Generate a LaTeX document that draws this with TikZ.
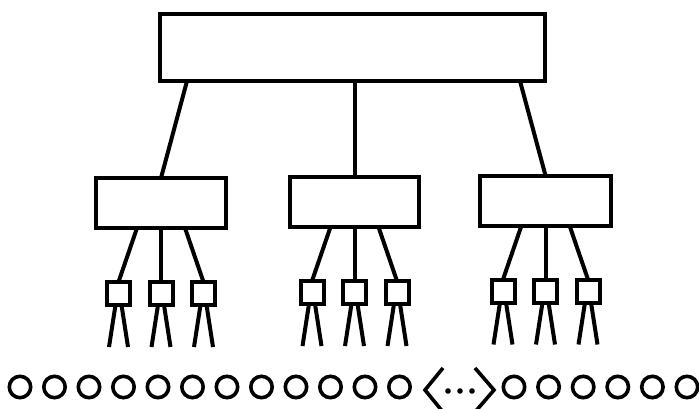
\documentclass[tikz,border=0pt]{standalone}
\usetikzlibrary{calc,backgrounds}
\begin{document}
\begin{tikzpicture}[x=1pt,y=-1pt,
  box/.style={draw=black,line width=4pt,fill=white,inner sep=0pt,outer sep=0pt},
  wire/.style={line width=4pt},
  ring/.style={draw=black,line width=3.6pt,circle,minimum size=21.4pt,inner sep=0pt,outer sep=0pt},
  chev/.style={line width=3.6pt}]
\useasboundingbox (0,0) rectangle (699,408);
\node[box,minimum width=385pt,minimum height=67pt] (t) at (352.5,47.5) {};
\foreach \g/\cx/\cy/\w/\sy in {1/161/203/130/293.5, 2/354.5/202/129/292.5, 3/545.5/200.5/131/291} {
  \node[box,minimum width=\w pt,minimum height=50pt] (m\g) at (\cx,\cy) {};
  \foreach \k/\dx in {1/-42.5,2/0,3/42.5} {
    \node[box,minimum width=23pt,minimum height=23pt] (s\g\k) at (\cx+\dx,\sy) {};
  }
}
\begin{scope}[on background layer]
  \fill[white] (0,0) rectangle (699,408);
  \draw[wire] ($(t.south)+(-165.5,0)$) -- (m1.north);
  \draw[wire] (m2.north |- t.south) -- (m2.north);
  \draw[wire] ($(t.south)+(167.5,0)$) -- (m3.north);
  \foreach \g in {1,2,3} {
    \draw[wire] ($(m\g.south)+(-24,0)$) -- (s\g1.north);
    \draw[wire] (m\g.south) -- (s\g2.north);
    \draw[wire] ($(m\g.south)+(24,0)$) -- (s\g3.north);
    \foreach \k in {1,2,3} {
      \coordinate (la\g\k) at ($(s\g\k.south)+(-9.5,42)$);
      \coordinate (lb\g\k) at ($(s\g\k.south)+(9.5,42)$);
      \draw[wire] ($(s\g\k.south)+(-3,0)$) -- (la\g\k);
      \draw[wire] ($(s\g\k.south)+(3,0)$) -- (lb\g\k);
    }
  }
\end{scope}
\foreach \i in {0,...,11} \node[ring] (c\i) at (20+34.5*\i,387) {};
\foreach \i in {0,...,5} \node[ring] (d\i) at (514+34.6*\i,387) {};
\draw[chev] (443,368) -- (425,390) -- (443,412);
\draw[chev] (475,368) -- (494,390) -- (475,412);
\fill (448,391) circle (2.8);
\fill (460,391) circle (2.8);
\fill (472,391) circle (2.8);
\end{tikzpicture}
\end{document}
